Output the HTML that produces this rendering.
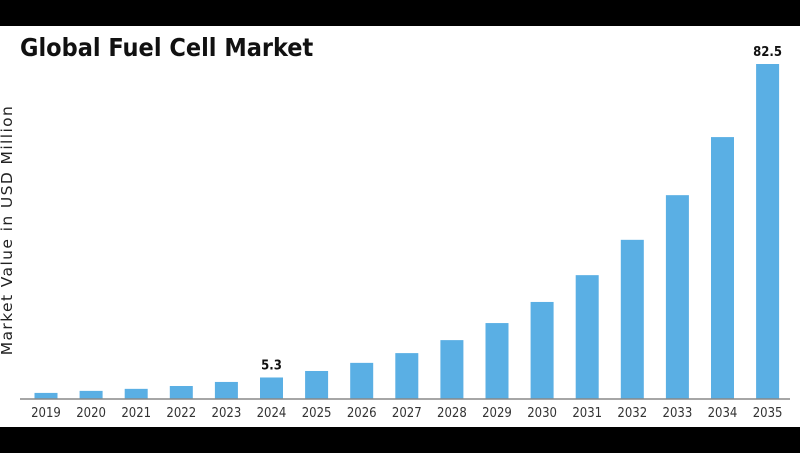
<!DOCTYPE html>
<html><head><meta charset="utf-8"><style>
body{margin:0;background:#fff;width:800px;height:453px;overflow:hidden;font-family:"DejaVu Sans","Liberation Sans",sans-serif}
</style></head><body>
<svg width="800" height="453">
<rect x="0" y="0" width="800" height="26" fill="#000"/>
<rect x="0" y="427" width="800" height="26" fill="#000"/>
<text x="20" y="56" font-size="25" font-weight="bold" fill="#111" font-family="DejaVu Sans Condensed, DejaVu Sans, sans-serif">Global Fuel Cell Market</text>
<text transform="translate(12,230) rotate(-90)" text-anchor="middle" font-size="15.5" letter-spacing="1.4" fill="#222">Market Value in USD Million</text>
<g id="bars"></g>
<line x1="20" y1="399" x2="790" y2="399" stroke="#888" stroke-width="1.5"/>
<g id="labels"></g>
</svg>
<script>
const categories=["2019","2020","2021","2022","2023","2024","2025","2026","2027","2028","2029","2030","2031","2032","2033","2034","2035"];
const values=[1.5,2.0,2.5,3.2,4.2,5.3,6.9,8.9,11.3,14.5,18.7,23.9,30.5,39.2,50.2,64.5,82.5];
const annotated=["2024","2035"];
const ns="http://www.w3.org/2000/svg";
const x0=46,step=45.1,base=399,scale=335/82.5,bw=23;
const xs=i=>x0+i*step, ys=v=>base-v*scale;
const bars=document.getElementById('bars'),labels=document.getElementById('labels');
categories.forEach((c,i)=>{
  const r=document.createElementNS(ns,'rect');
  r.setAttribute('x',xs(i)-bw/2);r.setAttribute('y',ys(values[i]));
  r.setAttribute('width',bw);r.setAttribute('height',base-ys(values[i]));
  r.setAttribute('fill','#5aafe4');
  
  
  bars.appendChild(r);
  const t=document.createElementNS(ns,'text');
  t.setAttribute('x',xs(i));t.setAttribute('y',417);t.setAttribute('text-anchor','middle');
  t.setAttribute('font-size','13');t.setAttribute('fill','#333');
  t.setAttribute('font-family','DejaVu Sans Condensed, DejaVu Sans, sans-serif');
  t.textContent=c;
  
  
  labels.appendChild(t);
  if(annotated.includes(c)){
    const v=document.createElementNS(ns,'text');
    v.setAttribute('x',xs(i));v.setAttribute('y',ys(values[i])-8);v.setAttribute('text-anchor','middle');
    v.setAttribute('font-size','13');v.setAttribute('font-weight','bold');v.setAttribute('fill','#111');
    v.setAttribute('font-family','DejaVu Sans Condensed, DejaVu Sans, sans-serif');
    v.textContent=values[i];
    
    
    labels.appendChild(v);
  }
});
</script>
</body></html>
